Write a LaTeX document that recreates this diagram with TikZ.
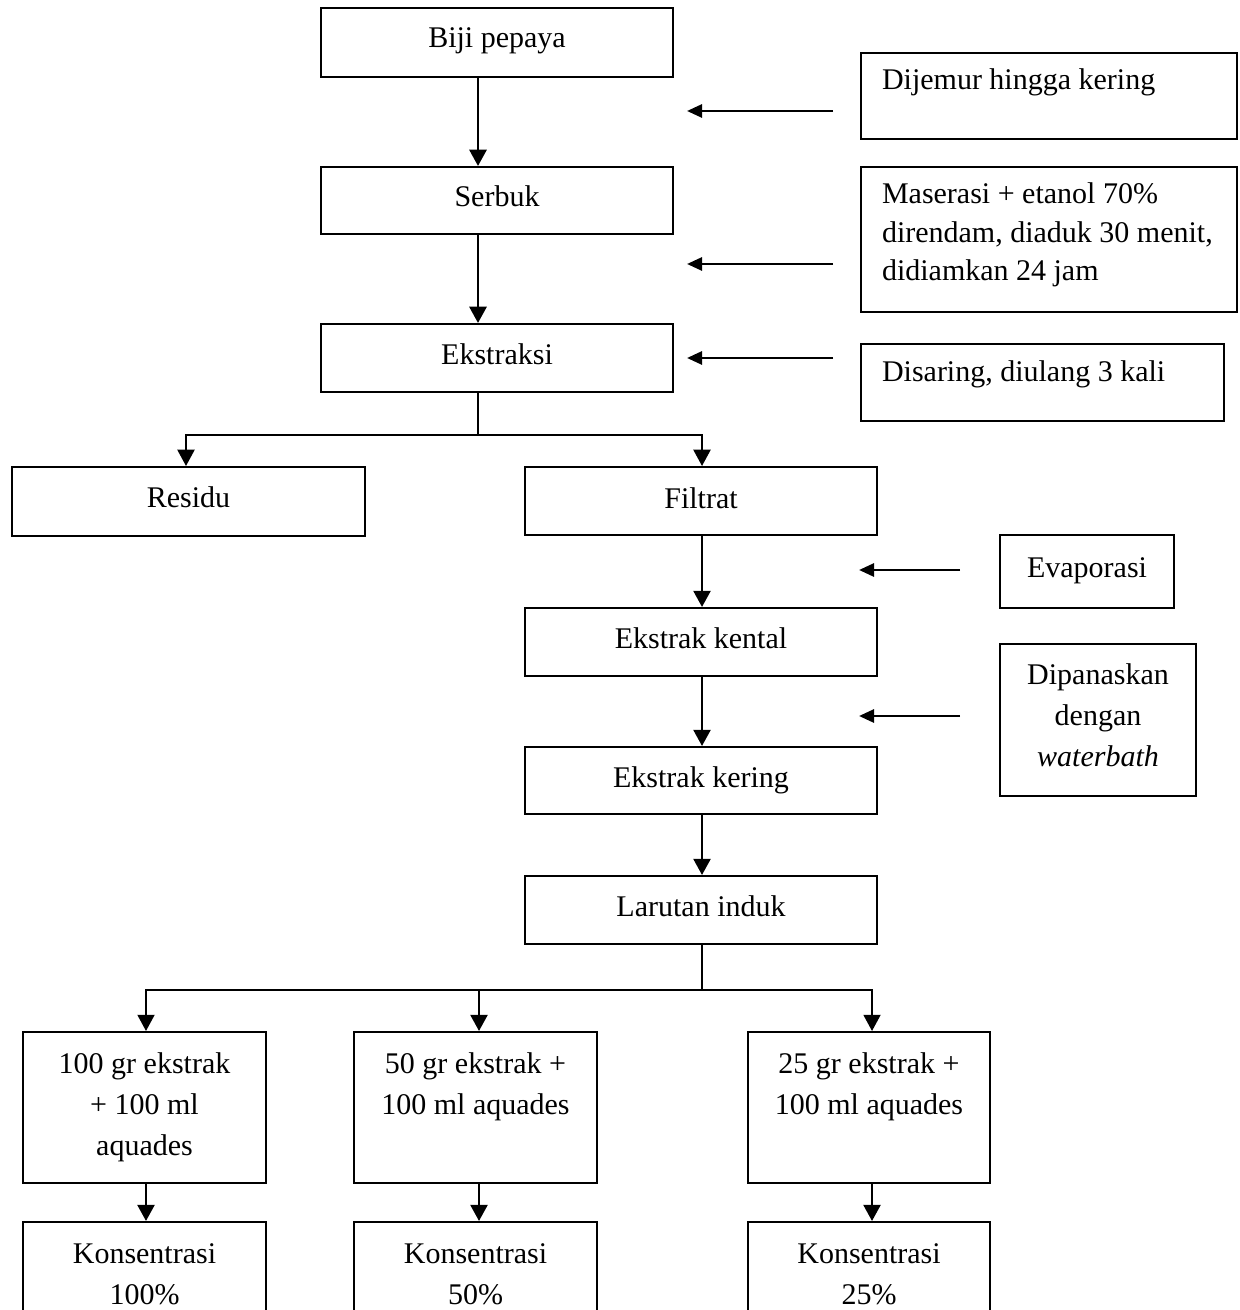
\documentclass[tikz,border=0pt]{standalone}
\usepackage{fontspec}
\setmainfont{Liberation Serif}
\usetikzlibrary{arrows.meta}
\newcommand\bxc[4]{\parbox[c][#2][t]{#1}{\centering\rule{0pt}{#3}#4\par}}
\newcommand\bxl[5]{\parbox[c][#2][t]{#1}{\raggedright\leftskip=8.4pt\baselineskip=#4\rule{0pt}{#3}#5\par}}
\begin{document}
\begin{tikzpicture}[x=0.4pt,y=-0.4pt,
  font=\fontsize{12}{16.4}\selectfont,
  box/.style={draw, line width=0.8pt, inner sep=0pt},
  arr/.style={line width=1.1pt, -{Triangle[length=6.5pt,width=6.8pt]}},
  sarr/.style={line width=1.1pt, -{Triangle[length=6pt,width=5.2pt]}},
  stem/.style={line width=0.6pt},
  hline/.style={line width=0.8pt}]
\useasboundingbox (0,0) rectangle (1239,1310);
\fill[white] (0,0) rectangle (1239,1310);
\clip (0,0) rectangle (1239,1310);

% main column
\node[box] (biji) at (497,42.5) {\bxc{140.8pt}{27.6pt}{16pt}{Biji pepaya}};
\node[box] (serbuk) at (497,200.5) {\bxc{140.8pt}{26.8pt}{16pt}{Serbuk}};
\node[box] (ekstraksi) at (497,358) {\bxc{140.8pt}{27.2pt}{16.4pt}{Ekstraksi}};

% side boxes
\node[box] (dij) at (1049,96) {\bxl{150.4pt}{34.4pt}{14.8pt}{15.4pt}{Dijemur hingga kering}};
\node[box] (mas) at (1049,239.5) {\bxl{150.4pt}{58pt}{14.8pt}{15.4pt}{Maserasi + etanol 70\%\\direndam, diaduk 30 menit,\\didiamkan 24 jam}};
\node[box] (dis) at (1042.5,382.5) {\bxl{145.2pt}{30.8pt}{15.2pt}{15.4pt}{Disaring, diulang 3 kali}};

% second level
\node[box] (residu) at (188.5,501.5) {\bxc{141.2pt}{27.6pt}{16.4pt}{Residu}};
\node[box] (filtrat) at (701,501) {\bxc{140.8pt}{27.2pt}{16.4pt}{Filtrat}};
\node[box] (evap) at (1087,571.5) {\bxc{69.6pt}{29.2pt}{16.8pt}{Evaporasi}};
\node[box] (kental) at (701,642) {\bxc{140.8pt}{27.2pt}{16pt}{Ekstrak kental}};
\node[box] (dipan) at (1098,720) {\bxc{78.4pt}{60.8pt}{16pt}{Dipanaskan\\dengan\\\textit{waterbath}}};
\node[box] (kering) at (701,780.5) {\bxc{140.8pt}{26.8pt}{16pt}{Ekstrak kering}};
\node[box] (larutan) at (701,910) {\bxc{140.8pt}{27.2pt}{16pt}{Larutan induk}};

% bottom boxes
\node[box] (c100) at (144.5,1107.5) {\bxc{97.2pt}{60.4pt}{16.4pt}{100 gr ekstrak\\+ 100 ml\\aquades}};
\node[box] (c50) at (475.5,1107.5) {\bxc{97.2pt}{60.4pt}{16.4pt}{50 gr ekstrak +\\100 ml aquades}};
\node[box] (c25) at (869,1107.5) {\bxc{96.8pt}{60.4pt}{16.4pt}{25 gr ekstrak +\\100 ml aquades}};
\node[box] (k100) at (144.5,1281) {\bxc{97.2pt}{47.2pt}{16.4pt}{Konsentrasi\\100\%}};
\node[box] (k50) at (475.5,1281) {\bxc{97.2pt}{47.2pt}{16.4pt}{Konsentrasi\\50\%}};
\node[box] (k25) at (869,1281) {\bxc{96.8pt}{47.2pt}{16.4pt}{Konsentrasi\\25\%}};

% x positions of the vertical connectors
\coordinate (xa) at (478,0);
\coordinate (xr) at (186,0);
\coordinate (xf) at (702,0);
\coordinate (x1) at (146,0);
\coordinate (x2) at (479,0);
\coordinate (x3) at (872,0);
\coordinate (j1) at (478,435);
\coordinate (j2) at (702,990);

% main arrows
\draw[arr] (biji.south -| xa) -- (serbuk.north -| xa);
\draw[arr] (serbuk.south -| xa) -- (ekstraksi.north -| xa);
\draw[stem] (ekstraksi.south -| xa) -- (j1);
\draw[hline, -{Triangle[length=6.5pt,width=6.8pt]}] (j1) -| (residu.north -| xr);
\draw[hline, -{Triangle[length=6.5pt,width=6.8pt]}] (j1) -| (filtrat.north -| xf);
\draw[arr] (filtrat.south -| xf) -- (kental.north -| xf);
\draw[arr] (kental.south -| xf) -- (kering.north -| xf);
\draw[arr] (kering.south -| xf) -- (larutan.north -| xf);
\draw[stem] (larutan.south -| xf) -- (j2);
\draw[hline, -{Triangle[length=6.5pt,width=6.8pt]}] (j2) -| (c100.north -| x1);
\draw[hline, -{Triangle[length=6.5pt,width=6.8pt]}] (j2) -| (c25.north -| x3);
\draw[arr] (j2 -| x2) -- (c50.north -| x2);
\draw[arr] (c100.south -| x1) -- (k100.north -| x1);
\draw[arr] (c50.south -| x2) -- (k50.north -| x2);
\draw[arr] (c25.south -| x3) -- (k25.north -| x3);

% side arrows
\coordinate (s1a) at (833,111); \coordinate (s1b) at (687,111);
\coordinate (s2a) at (833,264); \coordinate (s2b) at (687,264);
\coordinate (s3a) at (833,358); \coordinate (s3b) at (687,358);
\coordinate (s4a) at (960,570); \coordinate (s4b) at (859,570);
\coordinate (s5a) at (960,716); \coordinate (s5b) at (859,716);
\draw[sarr] (s1a) -- (s1b);
\draw[sarr] (s2a) -- (s2b);
\draw[sarr] (s3a) -- (s3b);
\draw[sarr] (s4a) -- (s4b);
\draw[sarr] (s5a) -- (s5b);
\end{tikzpicture}
\end{document}
